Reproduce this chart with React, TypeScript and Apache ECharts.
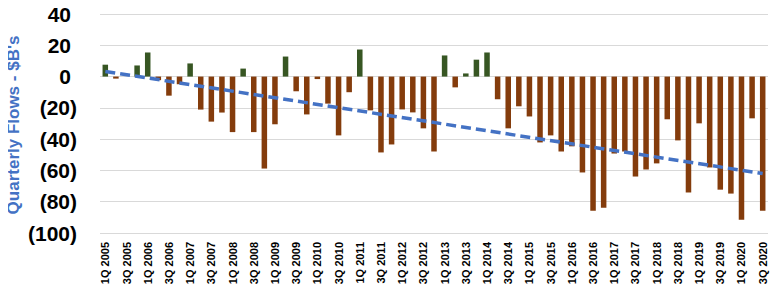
import React, { useEffect, useRef } from "react";
import * as echarts from "echarts";

const years = [2005, 2006, 2007, 2008, 2009, 2010, 2011, 2012, 2013, 2014, 2015, 2016, 2017, 2018, 2019, 2020];
const quarters = ["1Q", "2Q", "3Q", "4Q"];
const lastQuarterCount = 3; // data ends at 3Q 2020

const categories: string[] = [];
years.forEach((y, yi) => {
  const n = yi === years.length - 1 ? lastQuarterCount : 4;
  for (let q = 0; q < n; q++) categories.push(`${quarters[q]} ${y}`);
});

const flows = [
  7.6, -1.3, 0, 7.1,
  15.4, -2.3, -12.2, -4.9,
  8.4, -21.1, -28.8, -23,
  -35.5, 5.1, -35.5, -58.8,
  -30.5, 12.8, -9.4, -24.2,
  -1.6, -17.3, -37.6, -10,
  17.3, -21.6, -48.5, -43.4,
  -21, -22.9, -33.1, -47.9,
  13.5, -6.9, 2, 10.8,
  15.4, -14.5, -33.1, -19,
  -25.5, -42.1, -37.6, -47.9,
  -44.6, -61.3, -85.7, -83.8,
  -49.2, -47.9, -63.9, -59.4,
  -55.5, -27.3, -40.8, -74.1,
  -29.9, -58.1, -72.3, -74.8,
  -91.5, -26.7, -85.7,
];

const trendEnds = [3.3, -62];

const yMin = -100;
const yMax = 40;
const yStep = 20;

const GREEN = "#375623";
const BROWN = "#843C0C";
const BLUE = "#4472C4";
const FONT = "Liberation Sans";

export default function App() {
  const ref = useRef<HTMLDivElement>(null);
  useEffect(() => {
    if (!ref.current) return;
    const chart = echarts.init(ref.current, null, { renderer: "svg" });
    const trendData = categories.map((_, i) =>
      i === 0 ? trendEnds[0] : i === categories.length - 1 ? trendEnds[1] : null
    );
    chart.setOption({
      animation: false,
      grid: { left: 100, right: 11, top: 14, bottom: 59, containLabel: false },
      xAxis: {
        type: "category",
        data: categories,
        axisLine: { show: false, onZero: false },
        axisTick: { show: false },
        axisLabel: {
          interval: 1,
          rotate: 90,
          margin: 9,
          fontFamily: FONT,
          fontWeight: "bold",
          fontSize: 11,
          color: "#000",
        },
      },
      yAxis: {
        type: "value",
        min: yMin,
        max: yMax,
        interval: yStep,
        axisLine: { show: false },
        axisTick: { show: false },
        splitLine: { lineStyle: { color: "#D9D9D9", width: 1 } },
        axisLabel: {
          margin: 23,
          formatter: (v: number) => (v < 0 ? `{n|(${Math.abs(v)})}` : `{p|${v}}`),
          rich: {
            n: { fontFamily: FONT, fontWeight: "bold", fontSize: 21, color: "#000" },
            p: { fontFamily: FONT, fontWeight: "bold", fontSize: 21, color: "#000", padding: [0, 6, 0, 0] },
          },
        },
      },
      graphic: [
        {
          type: "text",
          x: 13,
          y: 125,
          rotation: Math.PI / 2,
          style: {
            text: "Quarterly Flows - $B's",
            fill: BLUE,
            fontFamily: FONT,
            fontWeight: "bold",
            fontSize: 17,
            align: "center",
            verticalAlign: "middle",
          },
        },
      ],
      series: [
        {
          type: "bar",
          barWidth: "52%",
          data: flows.map((v) => ({ value: v, itemStyle: { color: v >= 0 ? GREEN : BROWN } })),
        },
        {
          type: "line",
          data: trendData,
          connectNulls: true,
          symbol: "none",
          lineStyle: { color: BLUE, width: 3.5, type: [10, 5] },
          z: 5,
        },
      ],
    });
    return () => chart.dispose();
  }, []);
  return <div ref={ref} style={{ width: 779, height: 292, margin: -8 }} />;
}
